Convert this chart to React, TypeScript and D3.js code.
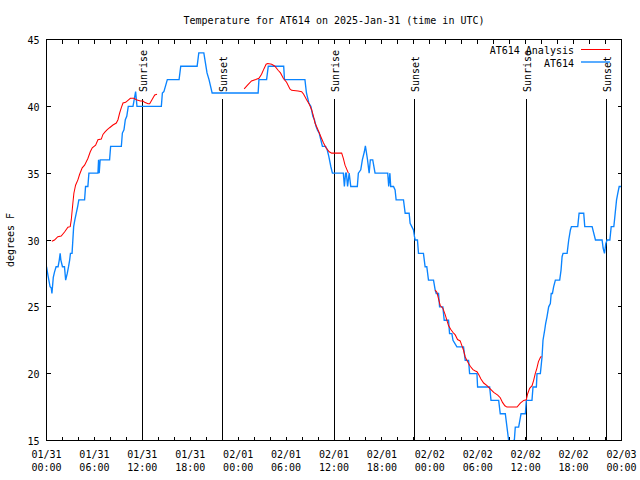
import React from "react";
import * as d3 from "d3";

const START = Date.UTC(2025, 0, 31, 0, 0);
const toDate = (h: number) => new Date(START + h * 3600000);

const TITLE = "Temperature for AT614 on 2025-Jan-31 (time in UTC)";
const Y_LABEL = "degrees F";
const yTicks = [15, 20, 25, 30, 35, 40, 45];
const sunrises = [12.08, 36.04, 60.08];
const sunsets = [21.99, 46.08, 70.12];

// AT614 observations: [hours since 01/31 00:00 UTC, deg F]
const at614: [number, number][] = [
  [0, 28], [0.2, 27.3], [0.45, 26.5], [0.6, 26.4], [0.68, 26], [0.85, 27.2], [1.0, 27.6], [1.2, 28],
  [1.45, 28], [1.6, 28.5], [1.71, 29], [1.8, 28.5], [2.0, 28], [2.25, 28], [2.4, 27], [2.6, 27.5],
  [2.76, 28], [2.9, 28.5], [3.0, 29], [3.2, 29], [3.3, 30], [3.4, 31], [3.55, 31.5], [3.72, 32],
  [3.9, 32.5], [4.05, 33], [4.77, 33], [4.89, 34], [5.18, 34], [5.31, 35], [6.44, 35], [6.52, 36],
  [6.6, 35], [6.72, 36], [7.9, 36], [8.03, 37], [9.37, 37], [9.5, 38], [9.7, 38.25], [9.87, 39],
  [10.05, 39.25], [10.24, 40], [10.83, 40], [11.16, 41.1], [11.33, 40], [14.38, 40], [14.51, 41],
  [14.7, 41.1], [15.13, 42], [16.6, 42], [16.81, 43], [18.86, 43], [19.07, 44], [19.7, 44],
  [19.9, 43.25], [20.1, 42.5], [20.35, 42], [20.74, 41], [26.5, 41], [26.6, 42], [27.56, 42],
  [27.77, 43], [29.7, 43], [29.8, 42], [32.36, 42], [32.55, 41], [32.85, 40.25], [33.1, 40],
  [33.35, 39.25], [33.55, 39], [33.75, 38.5], [33.95, 38.2], [34.15, 38], [34.35, 37.5], [34.55, 37],
  [34.95, 37], [35.15, 36.75], [35.35, 36.25], [35.6, 35.5], [35.8, 35], [37.17, 35], [37.3, 34],
  [37.45, 35], [37.55, 35], [37.7, 34], [37.9, 35], [38.1, 34], [38.92, 34], [39.05, 35],
  [39.35, 35.25], [39.55, 36], [39.8, 36.6], [39.93, 37.05], [40.2, 36], [40.4, 35], [40.55, 36],
  [40.85, 36], [41.14, 35], [42.73, 35], [42.85, 34], [43.0, 35], [43.1, 34], [43.45, 34],
  [43.65, 33.75], [43.78, 33], [44.7, 33], [44.91, 32], [45.41, 32], [45.53, 31.25], [45.74, 31],
  [45.95, 30.75], [46.08, 30.25], [46.16, 30], [46.45, 30], [46.58, 29], [47.2, 29], [47.41, 28],
  [47.62, 28], [47.83, 27], [48.46, 27], [48.67, 26.25], [48.8, 26], [49.09, 26], [49.22, 25],
  [49.63, 25], [49.8, 24], [50.34, 24], [50.47, 23], [50.76, 23], [50.9, 22.5], [51.39, 22],
  [52.22, 22], [52.43, 21], [52.85, 21], [52.98, 20], [53.9, 20], [53.98, 19], [55.49, 19],
  [55.66, 18], [56.62, 18], [56.82, 17], [57.45, 17], [57.66, 16], [57.87, 15], [58.0, 14],
  [58.35, 14], [58.5, 15], [58.58, 15], [58.7, 16], [59.12, 16], [59.42, 17], [59.96, 17],
  [60.08, 18], [60.79, 18], [60.92, 19], [61.34, 19], [61.42, 20], [61.84, 20], [62.05, 21.25],
  [62.17, 22.5], [62.38, 23.25], [62.5, 23.75], [62.67, 24.25], [62.88, 25], [63.09, 25.25],
  [63.2, 26], [63.35, 26], [63.5, 26.5], [63.72, 27], [64.26, 27], [64.43, 27.75], [64.56, 28.75],
  [64.68, 29], [65.19, 29], [65.39, 30], [65.6, 30.75], [65.73, 31], [66.52, 31], [66.69, 32],
  [67.27, 32], [67.4, 31], [68.32, 31], [68.74, 30], [69.57, 30], [69.7, 29.4], [69.87, 29],
  [70.04, 29.75], [70.2, 30], [70.54, 30], [70.71, 31], [71.04, 31], [71.21, 32], [71.38, 33],
  [71.54, 33.5], [71.71, 34], [72, 34],
];

// AT614 Analysis, three separate runs
const analysisRun1: [number, number][] = [
  [0.67, 29.9], [1.0, 30], [1.42, 30.25], [1.84, 30.3], [2.26, 30.6], [2.68, 30.95], [2.97, 31],
  [3.1, 31.5], [3.3, 32.75], [3.43, 33.5], [3.64, 34.1], [3.93, 34.5], [4.14, 34.9], [4.47, 35.4],
  [4.77, 35.6], [5.18, 36.1], [5.48, 36.6], [5.73, 36.9], [6.15, 37.1], [6.44, 37.5], [6.86, 37.55],
  [7.07, 37.9], [7.36, 38.1], [7.61, 38.25], [7.9, 38.4], [8.32, 38.6], [8.74, 38.75], [8.95, 39],
  [9.16, 39.5], [9.37, 39.9], [9.58, 40.25], [9.91, 40.3], [10.2, 40.45], [10.5, 40.6],
  [10.95, 40.6], [11.25, 40.5], [11.75, 40.4], [12.08, 40.4], [12.29, 40.3], [12.71, 40.2],
  [12.92, 40.2], [13.26, 40.55], [13.55, 40.85], [13.84, 40.9],
];
const analysisRun2: [number, number][] = [
  [24.75, 41.3], [25.2, 41.6], [25.67, 41.9], [26.2, 42], [26.6, 42.1], [26.93, 42.4], [27.22, 42.8],
  [27.5, 43.15], [27.7, 43.2], [28.2, 43.15], [28.6, 43], [29.0, 42.7], [29.3, 42.5], [29.65, 42.1],
  [30.06, 41.8], [30.48, 41.3], [30.69, 41.2], [31.5, 41.15], [31.95, 41.1], [32.2, 40.9],
  [32.57, 40.5], [32.87, 40.2], [33.2, 39.75], [33.41, 39.3], [33.62, 38.75], [33.95, 38.3],
  [34.3, 37.8], [34.66, 37.3], [35.0, 36.9], [35.4, 36.6], [35.71, 36.5], [36.96, 36.5],
  [37.17, 36.1], [37.38, 35.6], [37.59, 35.3], [37.8, 35.0],
];
const analysisRun3: [number, number][] = [
  [48.67, 26.25], [48.88, 26.1], [49.09, 25.6], [49.3, 25.1], [49.63, 24.9], [49.93, 24.4],
  [50.13, 24], [50.34, 23.6], [50.63, 23.3], [50.88, 23.1], [51.18, 22.9], [51.47, 22.55],
  [51.8, 22.45], [52.01, 22.1], [52.22, 21.75], [52.43, 21.25], [52.73, 20.9], [53.06, 20.55],
  [53.4, 20.3], [53.7, 20.2], [53.9, 20.15], [54.1, 19.95], [54.4, 19.6], [54.74, 19.3],
  [55.16, 19.1], [55.5, 18.9], [56.0, 18.6], [56.5, 18.4], [56.82, 18.2], [57.1, 17.85],
  [57.4, 17.6], [57.66, 17.5], [58.92, 17.5], [59.33, 17.8], [59.75, 18], [60.08, 18.05],
  [60.25, 18.5], [60.5, 18.9], [60.8, 19.1], [61.0, 19.5], [61.2, 20], [61.4, 20.4], [61.6, 20.9],
  [61.84, 21.2], [61.96, 21.3],
];

const FONT = "'DejaVu Sans Mono', monospace";
const RED = "#ff0000";
const BLUE = "#0a84ff";

export default function App() {
  const left = 46.5, right = 621.5, top = 39.5, bottom = 440.5;
  const x = d3.scaleUtc().domain([toDate(0), toDate(72)]).range([left, right]);
  const y = d3.scaleLinear().domain([15, 45]).range([bottom, top]);
  const line = d3
    .line<[number, number]>()
    .x((d) => x(toDate(d[0])))
    .y((d) => y(d[1]));
  const minor = d3.utcHour.every(2)!.range(toDate(0), toDate(72.01));
  const major = d3.utcHour.every(6)!.range(toDate(0), toDate(72.01));
  const fmtD = d3.utcFormat("%m/%d");
  const fmtT = d3.utcFormat("%H:%M");
  const px = (v: number) => Math.round(v - 0.5) + 0.5;

  return (
    <svg
      width={640}
      height={480}
      style={{ position: "absolute", left: 0, top: 0, background: "#fff" }}
      fontFamily={FONT}
      fontSize={10}
    >
      <rect x={0} y={0} width={640} height={480} fill="#fff" />
      <defs>
        <clipPath id="plot">
          <rect x={left} y={top} width={right - left} height={bottom - top} />
        </clipPath>
      </defs>
      <text x={334} y={24} textAnchor="middle">{TITLE}</text>

      {/* x ticks */}
      {minor.map((t, i) => {
        const xx = px(x(t));
        return (
          <g key={"mt" + i} stroke="#000" shapeRendering="crispEdges">
            <line x1={xx} x2={xx} y1={bottom} y2={bottom - 4} />
            <line x1={xx} x2={xx} y1={top} y2={top + 4} />
          </g>
        );
      })}
      {major.map((t, i) => (
        <g key={"ml" + i}>
          <text x={x(t)} y={458} textAnchor="middle">{fmtD(t)}</text>
          <text x={x(t)} y={471} textAnchor="middle">{fmtT(t)}</text>
        </g>
      ))}
      {/* y ticks */}
      {yTicks.map((v) => {
        const yy = px(y(v));
        return (
          <g key={"y" + v}>
            <g stroke="#000" shapeRendering="crispEdges">
              <line x1={left} x2={left + 4} y1={yy} y2={yy} />
              <line x1={right} x2={right - 4} y1={yy} y2={yy} />
            </g>
            <text x={39.5} y={yy + 4} textAnchor="end">{v}</text>
          </g>
        );
      })}
      <text transform="translate(14,240) rotate(-90)" textAnchor="middle">{Y_LABEL}</text>

      {/* sunrise / sunset */}
      {[...sunrises.map((h) => ({ h, label: "Sunrise" })), ...sunsets.map((h) => ({ h, label: "Sunset" }))].map(
        (s, i) => {
          const xx = px(x(toDate(s.h)));
          return (
            <g key={"s" + i}>
              <line x1={xx} x2={xx} y1={99} y2={bottom} stroke="#000" shapeRendering="crispEdges" />
              <text transform={`translate(${xx + 4.5},92) rotate(-90)`}>{s.label}</text>
            </g>
          );
        }
      )}

      <g clipPath="url(#plot)" fill="none" strokeLinejoin="miter">
        <path d={line(at614) || ""} stroke={BLUE} strokeWidth={1.35} />
        {[analysisRun1, analysisRun2, analysisRun3].map((r, i) => (
          <path key={"a" + i} d={line(r) || ""} stroke={RED} strokeWidth={1.05} />
        ))}
      </g>

      <rect x={left} y={top} width={right - left} height={bottom - top} fill="none" stroke="#000" shapeRendering="crispEdges" />

      {/* legend */}
      <text x={574} y={54} textAnchor="end">AT614 Analysis</text>
      <line x1={581} x2={610} y1={49.5} y2={49.5} stroke={RED} strokeWidth={1.05} />
      <text x={574} y={66.5} textAnchor="end">AT614</text>
      <line x1={581} x2={610} y1={62} y2={62} stroke={BLUE} strokeWidth={1.35} />
    </svg>
  );
}
